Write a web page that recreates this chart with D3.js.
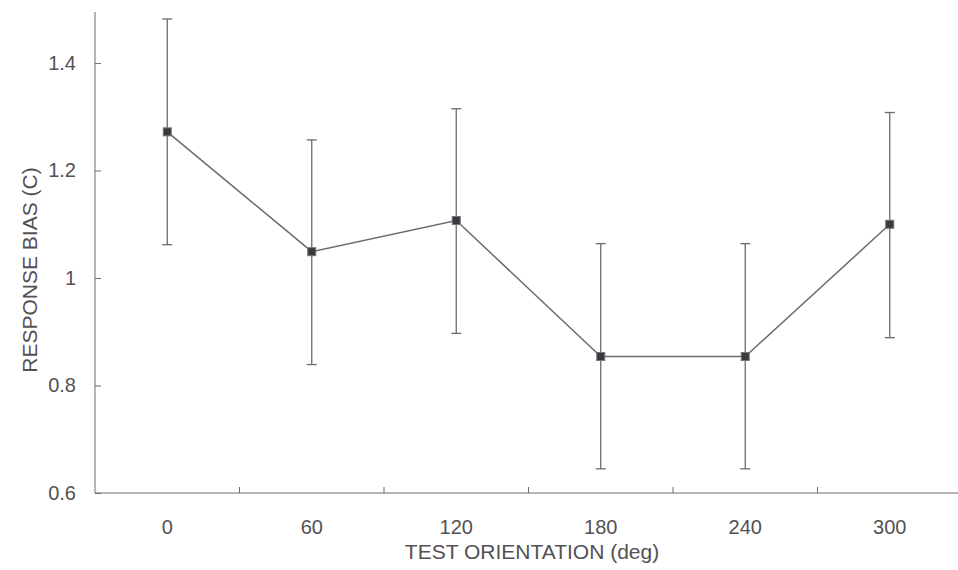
<!DOCTYPE html>
<html>
<head>
<meta charset="utf-8">
<script src="https://cdn.jsdelivr.net/npm/d3@7"></script>
<style>
  body { margin: 0; background: #fff; }
  text { font-family: "Liberation Sans", Arial, sans-serif; fill: #545054; }
</style>
</head>
<body>
<svg id="chart"></svg>
<script>
var orientations = ["0", "60", "120", "180", "240", "300"];
var bias = [1.272, 1.049, 1.107, 0.854, 0.854, 1.100];
var upper = [1.482, 1.257, 1.315, 1.064, 1.064, 1.308];
var lower = [1.062, 0.839, 0.897, 0.645, 0.645, 0.889];
var yTicks = [0.6, 0.8, 1, 1.2, 1.4];

var width = 958, height = 570;
var margin = {top: 12, left: 95, bottom: 77};
var lineColor = "#6e6a6e";

var svg = d3.select("#chart")
    .attr("width", width)
    .attr("height", height);

var x = d3.scaleBand()
    .domain(orientations)
    .range([margin.left, margin.left + 6 * 144.5]);

var y = d3.scaleLinear()
    .domain([0.6, 1.495])
    .range([height - margin.bottom, margin.top]);

// y axis, ticks inward
var yAxis = svg.append("g")
    .attr("transform", `translate(${margin.left},0)`)
    .call(d3.axisRight(y).tickValues(yTicks).tickSize(6).tickFormat(d3.format("")));
yAxis.select(".domain").attr("stroke", lineColor).attr("d", `M0,${y(0.6)}V${margin.top}`);
yAxis.selectAll(".tick line").attr("stroke", lineColor);
yAxis.selectAll(".tick text")
    .attr("x", -19)
    .attr("text-anchor", "end")
    .attr("font-size", 20)
    .attr("font-family", "Liberation Sans, Arial, sans-serif")
    .style("fill", "#545054");

// x axis, ticks between categories pointing up
var xAxis = svg.append("g")
    .attr("transform", `translate(0,${y(0.6)})`);
xAxis.append("line")
    .attr("x1", margin.left).attr("x2", width)
    .attr("stroke", lineColor);
xAxis.selectAll(".sep")
    .data(orientations.slice(1))
    .enter().append("line")
    .attr("class", "sep")
    .attr("x1", d => x(d)).attr("x2", d => x(d))
    .attr("y1", 0).attr("y2", -6)
    .attr("stroke", lineColor);
xAxis.selectAll(".lbl")
    .data(orientations)
    .enter().append("text")
    .attr("class", "lbl")
    .attr("x", d => x(d) + x.bandwidth() / 2)
    .attr("y", 41)
    .attr("text-anchor", "middle")
    .attr("font-size", 20)
    .text(d => d);

// axis titles
svg.append("text")
    .attr("transform", "translate(37,270) rotate(-90)")
    .attr("text-anchor", "middle")
    .attr("font-size", 21)
    .text("RESPONSE BIAS (C)");
svg.append("text")
    .attr("x", 532)
    .attr("y", 559)
    .attr("text-anchor", "middle")
    .attr("font-size", 21)
    .text("TEST ORIENTATION (deg)");

var cx = function(i) { return x(orientations[i]) + x.bandwidth() / 2; };

// error bars
var eb = svg.append("g").attr("stroke", lineColor).attr("stroke-width", 1.3);
orientations.forEach(function(o, i) {
    eb.append("line").attr("x1", cx(i)).attr("x2", cx(i)).attr("y1", y(upper[i])).attr("y2", y(lower[i]));
    eb.append("line").attr("x1", cx(i) - 5).attr("x2", cx(i) + 5).attr("y1", y(upper[i])).attr("y2", y(upper[i]));
    eb.append("line").attr("x1", cx(i) - 5).attr("x2", cx(i) + 5).attr("y1", y(lower[i])).attr("y2", y(lower[i]));
});

// line
var line = d3.line()
    .x(function(d, i) { return cx(i); })
    .y(function(d) { return y(d); });
svg.append("path")
    .datum(bias)
    .attr("fill", "none")
    .attr("stroke", lineColor)
    .attr("stroke-width", 1.5)
    .attr("d", line);

// markers
svg.selectAll(".pt")
    .data(bias)
    .enter().append("rect")
    .attr("class", "pt")
    .attr("x", (d, i) => cx(i) - 4)
    .attr("y", d => y(d) - 4)
    .attr("width", 8)
    .attr("height", 8)
    .attr("fill", "#3a383c")
    .attr("stroke", "#77737a")
    .attr("stroke-width", 1);
</script>
</body>
</html>
